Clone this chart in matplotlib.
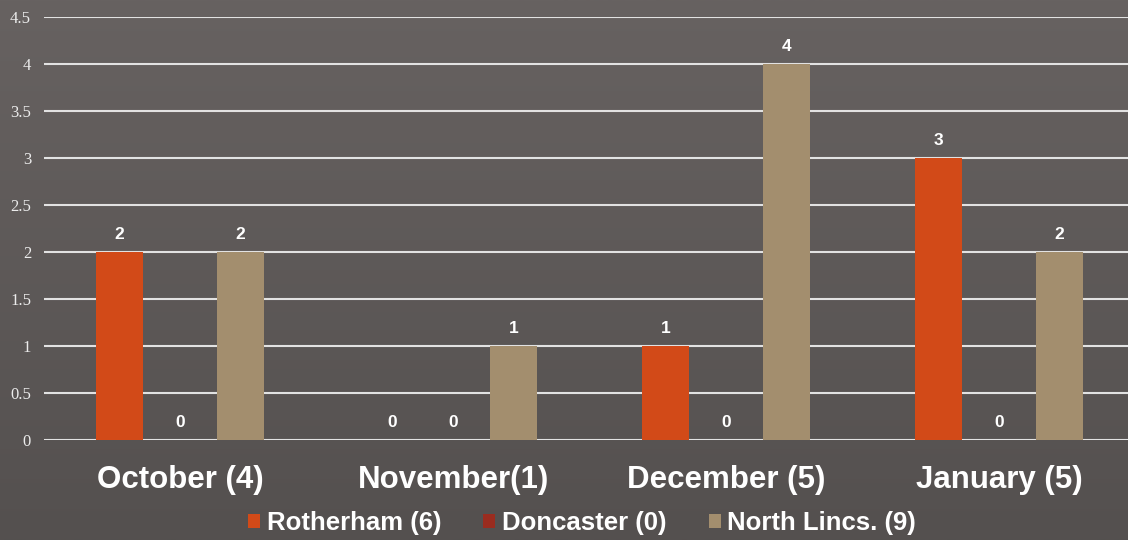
import numpy as np
import matplotlib.pyplot as plt

months = ["October (4)", "November(1)", "December (5)", "January (5)"]
series = ["Rotherham (6)", "Doncaster (0)", "North Lincs. (9)"]
rotherham = [2, 0, 1, 3]
doncaster = [0, 0, 0, 0]
north_lincs = [2, 1, 4, 2]
yticks = [0, 0.5, 1, 1.5, 2, 2.5, 3, 3.5, 4, 4.5]

colors = ["#D24A18", "#9A2C1F", "#A38E6E"]

fig = plt.figure(figsize=(11.28, 5.4), dpi=100)

# background gradient, lighter at the top
bg = fig.add_axes([0, 0, 1, 1], zorder=-1)
grad = np.linspace(0, 1, 256).reshape(-1, 1)
top = np.array([103, 98, 97]) / 255
bot = np.array([84, 80, 79]) / 255
img = top + (bot - top) * grad[:, :, None]
bg.imshow(img, aspect="auto", extent=[0, 1, 0, 1])
bg.axis("off")

# plot area runs a little past the right edge of the figure
ax = fig.add_axes([0.0386, 0.1852, 0.9681, 0.7833])
ax.patch.set_alpha(0)

x = np.arange(len(months))
width = 0.172
step = 0.2216
for i, (vals, name) in enumerate(zip([rotherham, doncaster, north_lincs], series)):
    pos = x + (i - 1) * step
    ax.bar(pos, vals, width, color=colors[i], label=name, zorder=3)
    for px, v in zip(pos, vals):
        ax.annotate(str(v), (px, v), xytext=(0, 7), textcoords="offset points",
                    ha="center", va="bottom", color="white", fontsize=12.5,
                    fontweight="bold", family="Liberation Sans")

ax.set_xlim(-0.5, len(months) - 0.5)
ax.set_ylim(0, 4.5)
ax.set_yticks(yticks)
ax.set_yticklabels([f"{t:g}" for t in yticks], family="Liberation Serif",
                   fontsize=12, color="#ececec")
ax.grid(axis="y", color="#e2e2e2", linewidth=1.5, zorder=1)
ax.tick_params(axis="y", length=0, pad=9)
ax.set_xticks(x)
ax.set_xticklabels(months, family="Liberation Sans", fontweight="bold",
                   fontsize=22.5, color="white")
ax.tick_params(axis="x", length=0, pad=18)
for s in ax.spines.values():
    s.set_visible(False)

leg = fig.legend(loc="center", bbox_to_anchor=(0.516, 0.031), ncol=3,
                 frameon=False, handlelength=0.47, handleheight=0.47,
                 handletextpad=0.25, columnspacing=1.65, borderpad=0,
                 prop={"family": "Liberation Sans", "weight": "bold", "size": 18.5})
for t in leg.get_texts():
    t.set_color("white")

fig.savefig("out.png", dpi=100)
